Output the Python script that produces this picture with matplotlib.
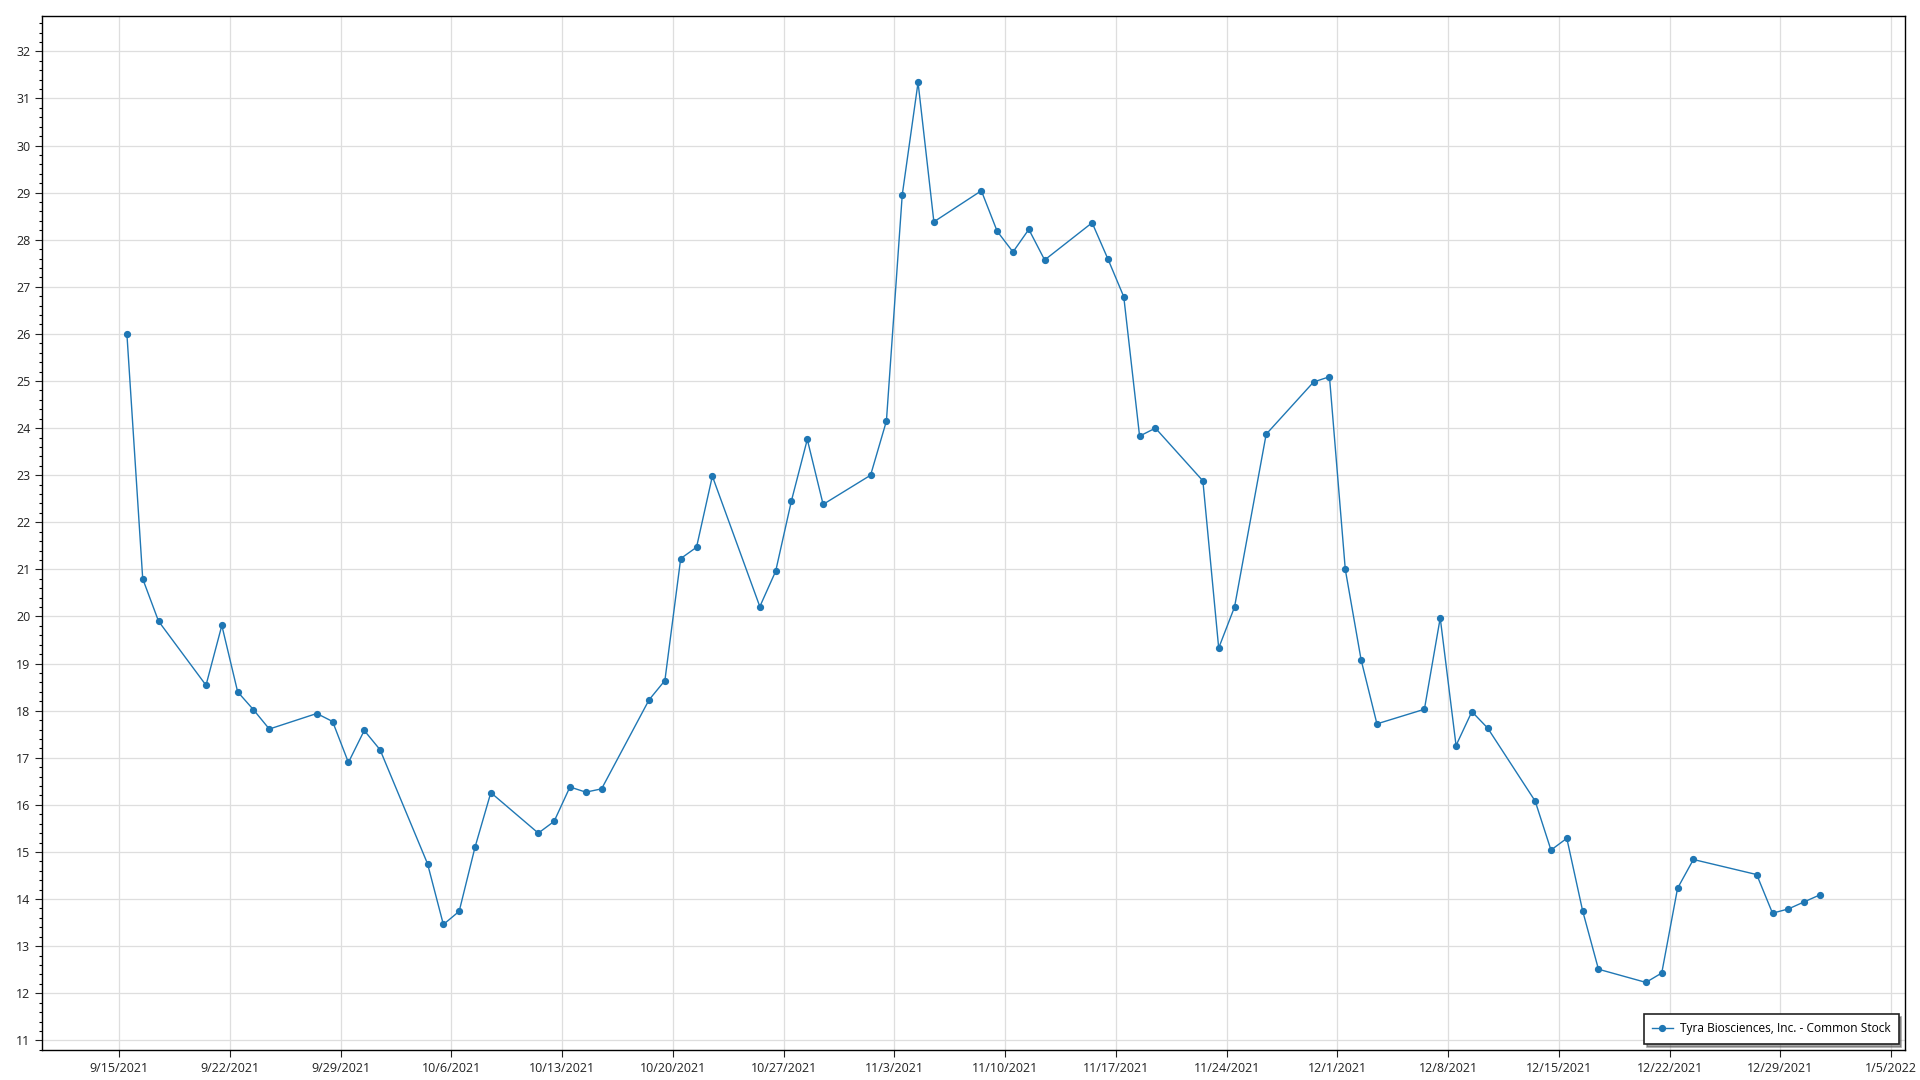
import matplotlib

matplotlib.use("Agg")

import matplotlib.dates as mdates
import matplotlib.pyplot as plt
import pandas as pd
from matplotlib.ticker import FixedLocator, FuncFormatter, MultipleLocator

# Daily close, Tyra Biosciences (TYRA).
dates = [
    "2021-09-15", "2021-09-16", "2021-09-17", "2021-09-20", "2021-09-21",
    "2021-09-22", "2021-09-23", "2021-09-24", "2021-09-27", "2021-09-28",
    "2021-09-29", "2021-09-30", "2021-10-01", "2021-10-04", "2021-10-05",
    "2021-10-06", "2021-10-07", "2021-10-08", "2021-10-11", "2021-10-12",
    "2021-10-13", "2021-10-14", "2021-10-15", "2021-10-18", "2021-10-19",
    "2021-10-20", "2021-10-21", "2021-10-22", "2021-10-25", "2021-10-26",
    "2021-10-27", "2021-10-28", "2021-10-29", "2021-11-01", "2021-11-02",
    "2021-11-03", "2021-11-04", "2021-11-05", "2021-11-08", "2021-11-09",
    "2021-11-10", "2021-11-11", "2021-11-12", "2021-11-15", "2021-11-16",
    "2021-11-17", "2021-11-18", "2021-11-19", "2021-11-22", "2021-11-23",
    "2021-11-24", "2021-11-26", "2021-11-29", "2021-11-30", "2021-12-01",
    "2021-12-02", "2021-12-03", "2021-12-06", "2021-12-07", "2021-12-08",
    "2021-12-09", "2021-12-10", "2021-12-13", "2021-12-14", "2021-12-15",
    "2021-12-16", "2021-12-17", "2021-12-20", "2021-12-21", "2021-12-22",
    "2021-12-23", "2021-12-27", "2021-12-28", "2021-12-29", "2021-12-30",
    "2021-12-31",
]
close = [
    26.00, 20.80, 19.90, 18.54, 19.81,
    18.40, 18.02, 17.61, 17.94, 17.77,
    16.90, 17.58, 17.17, 14.75, 13.46,
    13.74, 15.10, 16.26, 15.40, 15.65,
    16.38, 16.27, 16.34, 18.23, 18.64,
    21.23, 21.47, 22.98, 20.21, 20.96,
    22.46, 23.76, 22.38, 23.00, 24.15,
    28.95, 31.34, 28.38, 29.04, 28.18,
    27.74, 28.22, 27.57, 28.36, 27.59,
    26.79, 23.83, 24.00, 22.88, 19.33,
    20.20, 23.87, 24.98, 25.09, 21.00,
    19.08, 17.72, 18.03, 19.97, 17.26,
    17.98, 17.63, 16.08, 15.04, 15.29,
    13.75, 12.51, 12.23, 12.43, 14.23,
    14.84, 14.52, 13.70, 13.79, 13.94,
    14.09,
]
series_label = "Tyra Biosciences, Inc. - Common Stock"
tick_dates = pd.date_range("2021-09-15", "2022-01-05", freq="7D")

# points sit mid-day in the reference
x = pd.to_datetime(dates) + pd.Timedelta(hours=12)

plt.rcParams["font.family"] = ["Open Sans", "DejaVu Sans"]

fig = plt.figure(figsize=(19.2, 10.8), dpi=100)
ax = fig.add_axes([0.022, 0.028, 0.970, 0.9576])

ax.plot(x, close, color="#1f77b4", lw=1.0, marker="o", ms=4.2,
        label=series_label)

ax.set_ylim(10.8, 32.76)
ax.margins(x=0.05)
ax.yaxis.set_major_locator(MultipleLocator(1))
ax.yaxis.set_minor_locator(MultipleLocator(0.2))
ax.xaxis.set_major_locator(FixedLocator(mdates.date2num(tick_dates)))
ax.xaxis.set_major_formatter(FuncFormatter(
    lambda v, _: (lambda d: f"{d.month}/{d.day}/{d.year}")(mdates.num2date(v))))

ax.grid(True, which="major", color="#dedede", lw=0.9)
ax.set_axisbelow(True)
ax.tick_params(axis="both", which="major", labelsize=9, length=5,
               width=0.8, colors="#222222")
ax.tick_params(axis="y", which="minor", length=2.5, width=0.8)
for s in ax.spines.values():
    s.set_color("black")
    s.set_linewidth(1.0)

leg = ax.legend(loc="lower right", fontsize=8.6, frameon=True, fancybox=False,
                shadow=True, edgecolor="#222222", borderaxespad=0.5,
                handlelength=1.7, handletextpad=0.6, borderpad=0.7)
leg.get_frame().set_linewidth(1.2)

fig.savefig("out.png", dpi=100, facecolor="white")
